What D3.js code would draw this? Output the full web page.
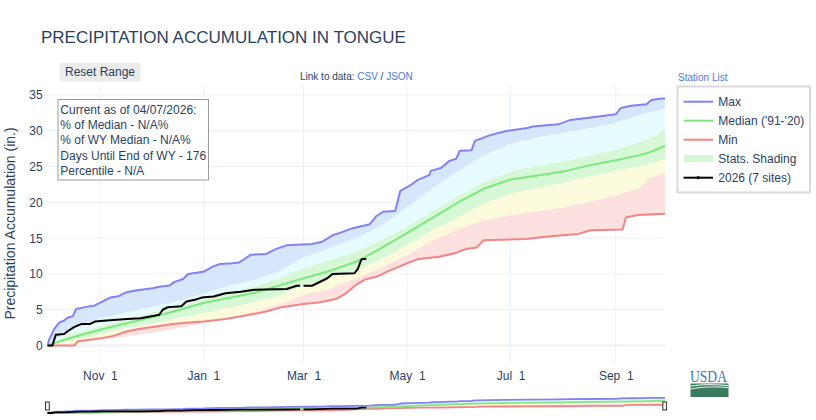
<!DOCTYPE html>
<html>
<head>
<meta charset="utf-8">
<script src="https://cdn.jsdelivr.net/npm/d3@7"></script>
<style>
  body { margin: 0; background: #fff; }
  svg text { font-family: "Liberation Sans", Arial, sans-serif; fill: #2a3f5f; }
</style>
</head>
<body>
<div class="chart"></div>
<script>
// ---- data: precipitation accumulation, inches ----

// common dates for the percentile bands and the median
var gridDates = ["2025-10-01","2025-10-15","2025-11-01","2025-11-15","2025-12-01","2025-12-15",
    "2026-01-01","2026-01-15","2026-02-01","2026-02-15","2026-03-01","2026-03-15","2026-04-01",
    "2026-04-15","2026-05-01","2026-05-15","2026-06-01","2026-06-15","2026-07-01","2026-07-15",
    "2026-08-01","2026-08-15","2026-09-01","2026-09-15","2026-09-21","2026-09-30"];
var p90Vals = [0, 2.4, 3.8, 4.5, 5.4, 6.1, 7.2, 8.3, 9.2, 10.4, 12.3, 13.5, 15.0, 16.6, 19.3, 21.8,
    24.5, 26.5, 28.2, 29.0, 29.7, 30.3, 31.1, 32.2, 32.6, 33.0];
var p70Vals = [0, 1.6, 2.7, 3.5, 4.5, 5.2, 6.5, 7.3, 8.3, 9.4, 10.8, 11.8, 13.1, 14.6, 16.6, 18.6,
    21.0, 22.8, 24.3, 25.0, 25.7, 26.4, 27.4, 28.4, 28.9, 30.1];
var medianVals = [0, 1.1, 2.2, 3.0, 3.9, 4.8, 5.95, 6.6, 7.4, 8.4, 9.4, 10.3, 11.7, 13.5, 15.7, 17.7,
    20.1, 21.9, 23.2, 23.7, 24.3, 25.1, 25.9, 26.6, 27.0, 27.9];
var p30Vals = [0, 0.7, 1.5, 2.3, 3.0, 3.7, 4.5, 5.2, 6.1, 7.0, 8.4, 9.3, 10.6, 12.0, 14.0, 16.0,
    18.0, 19.8, 21.2, 21.9, 22.7, 23.5, 24.4, 25.0, 25.4, 26.0];
var p10Vals = [0, 0.2, 0.8, 1.2, 1.8, 2.3, 3.1, 3.8, 4.8, 5.7, 7.1, 7.8, 9.4, 10.8, 12.6, 14.6,
    16.3, 17.5, 18.2, 18.7, 19.3, 20.0, 21.0, 22.0, 23.4, 24.1];

var maxDates = ["2025-10-01","2025-10-02","2025-10-05","2025-10-08","2025-10-11","2025-10-13",
    "2025-10-16","2025-10-18","2025-10-24","2025-10-29","2025-11-03","2025-11-07","2025-11-12",
    "2025-11-16","2025-11-22","2025-12-02","2025-12-06","2025-12-12","2025-12-15","2025-12-20",
    "2025-12-23","2026-01-01","2026-01-07","2026-01-11","2026-01-18","2026-01-22","2026-01-29",
    "2026-02-07","2026-02-13","2026-02-19","2026-03-06","2026-03-12","2026-03-18","2026-03-22",
    "2026-03-30","2026-04-09","2026-04-13","2026-04-17","2026-04-24","2026-04-27","2026-05-03",
    "2026-05-07","2026-05-14","2026-05-15","2026-05-21","2026-05-26","2026-05-30","2026-06-01",
    "2026-06-08","2026-06-10","2026-06-19","2026-06-29","2026-07-11","2026-07-14","2026-07-29",
    "2026-08-05","2026-08-15","2026-09-01","2026-09-04","2026-09-10","2026-09-19","2026-09-22",
    "2026-09-28","2026-09-30"];
var maxVals = [0, 0.8, 2.3, 3.2, 3.5, 3.9, 4.1, 5.1, 5.4, 5.6, 6.2, 6.7, 6.9, 7.4, 7.7, 8.0, 8.2,
    8.4, 8.9, 9.3, 10.0, 10.3, 11.1, 11.4, 11.5, 11.6, 12.7, 12.8, 13.5, 14.0, 14.2, 14.5, 15.4,
    15.7, 16.4, 16.95, 18.1, 18.7, 18.8, 21.6, 22.4, 23.1, 23.8, 24.4, 24.8, 25.8, 26.1, 27.2,
    27.3, 28.6, 29.4, 30.0, 30.4, 30.6, 30.9, 31.5, 31.8, 32.3, 33.2, 33.5, 33.7, 34.3, 34.5, 34.5];

var minDates = ["2025-10-01","2025-10-17","2025-10-19","2025-11-01","2025-11-09","2025-11-17",
    "2025-11-24","2025-12-04","2025-12-14","2025-12-22","2026-01-01","2026-01-14","2026-01-26",
    "2026-02-07","2026-02-15","2026-03-01","2026-03-10","2026-03-20","2026-03-26","2026-04-01",
    "2026-04-07","2026-04-13","2026-04-19","2026-04-26","2026-05-02","2026-05-08","2026-05-20",
    "2026-05-29","2026-06-05","2026-06-11","2026-06-15","2026-07-10","2026-07-26","2026-08-10",
    "2026-08-17","2026-09-05","2026-09-07","2026-09-14","2026-09-30"];
var minVals = [0, 0, 0.6, 1.0, 1.35, 2.0, 2.3, 2.65, 3.0, 3.2, 3.35, 3.7, 4.2, 4.75, 5.3, 5.8, 6.0,
    6.5, 7.3, 8.5, 9.3, 9.6, 10.3, 11.0, 11.6, 12.1, 12.4, 12.9, 13.5, 13.7, 14.7, 14.9, 15.3,
    15.6, 16.1, 16.2, 17.9, 18.25, 18.4];

// water year 2026, 7 sites (null = missing day)
var curDates = ["2025-10-01","2025-10-04","2025-10-06","2025-10-11","2025-10-13","2025-10-17",
    "2025-10-21","2025-10-26","2025-10-29","2025-11-05","2025-11-17","2025-11-25","2025-12-03",
    "2025-12-06","2025-12-08","2025-12-11","2025-12-19","2025-12-22","2025-12-27","2025-12-31",
    "2026-01-07","2026-01-14","2026-01-23","2026-01-31","2026-02-19","2026-02-25","2026-02-27",
    "2026-02-28","2026-03-01","2026-03-06","2026-03-09","2026-03-15","2026-03-18","2026-03-31",
    "2026-04-02","2026-04-04","2026-04-05","2026-04-07"];
var curVals = [0, 0, 1.5, 1.6, 2.0, 2.6, 3.0, 3.0, 3.35, 3.5, 3.7, 3.8, 4.15, 4.3, 5.0, 5.35, 5.5,
    6.15, 6.4, 6.7, 6.85, 7.3, 7.5, 7.8, 7.9, 8.35, 8.35, null, 8.35, 8.35, 8.7, 9.4, 10.0, 10.1,
    10.7, 12.0, 12.1, 12.1];

var xTickDates = ["2025-11-01","2026-01-01","2026-03-01","2026-05-01","2026-07-01","2026-09-01"];
var yTicks = [0, 5, 10, 15, 20, 25, 30, 35];
var legendLabels = ["Max", "Median ('91-'20)", "Min", "Stats. Shading", "2026 (7 sites)"];
var noteLines = ["Current as of 04/07/2026:", "% of Median - N/A%", "% of WY Median - N/A%",
    "Days Until End of WY - 176", "Percentile - N/A"];

// ---- setup ----
var parse = d3.timeParse("%Y-%m-%d");
function series(dates, vals){
    return dates.map(function(d, i){ return {date: parse(d), value: vals[i]}; });
}
var maxS = series(maxDates, maxVals),
    p90S = series(gridDates, p90Vals),
    p70S = series(gridDates, p70Vals),
    medS = series(gridDates, medianVals),
    p30S = series(gridDates, p30Vals),
    p10S = series(gridDates, p10Vals),
    minS = series(minDates, minVals),
    curS = series(curDates, curVals);

var plot = {left: 47.3, right: 665, top: 85, bottom: 362};

var svg = d3.select(".chart").append("svg")
    .attr("width", 816)
    .attr("height", 420);

var x = d3.scaleTime()
    .domain([parse("2025-10-01"), parse("2026-09-30")])
    .range([plot.left, plot.right]);
var y = d3.scaleLinear().domain([-2.3, 36.4]).range([plot.bottom, plot.top]);
var ySlider = d3.scaleLinear().domain([-2.3, 36.4]).range([414, 397]);

var colors = {
    max: "#8282f4", median: "#7de77d", min: "#f48484", cur: "#000",
    bands: ["#d6e6fb", "#e5fbfd", "#d7f8d7", "#fbfbdb", "#fde0e0"]
};

// title
svg.append("text")
    .attr("x", 41).attr("y", 43.3)
    .style("font-size", "17px")
    .text("PRECIPITATION ACCUMULATION IN TONGUE");

// gridlines
svg.append("g").selectAll("line.vgrid")
    .data(xTickDates.map(parse))
    .enter().append("line")
    .attr("class", "vgrid")
    .attr("x1", function(d){ return x(d); }).attr("x2", function(d){ return x(d); })
    .attr("y1", plot.top).attr("y2", plot.bottom)
    .attr("stroke", "#ebf0f8").attr("stroke-width", 1);

svg.append("g").selectAll("line.hgrid")
    .data(yTicks)
    .enter().append("line")
    .attr("class", "hgrid")
    .attr("x1", plot.left).attr("x2", plot.right)
    .attr("y1", function(d){ return y(d); }).attr("y2", function(d){ return y(d); })
    .attr("stroke", "#ebf0f8")
    .attr("stroke-width", function(d){ return d === 0 ? 2 : 1; });

// clip paths
var defs = svg.append("defs");
defs.append("clipPath").attr("id", "clip-main").append("rect")
    .attr("x", plot.left).attr("y", plot.top)
    .attr("width", plot.right - plot.left).attr("height", plot.bottom - plot.top);
defs.append("clipPath").attr("id", "clip-slider").append("rect")
    .attr("x", plot.left).attr("y", 396)
    .attr("width", plot.right - plot.left).attr("height", 19);

function bandPath(upper, lower, ys){
    var pts = upper.map(function(d){ return [x(d.date), ys(d.value)]; })
        .concat(lower.slice().reverse().map(function(d){ return [x(d.date), ys(d.value)]; }));
    return d3.line()(pts) + "Z";
}

function drawTraces(g, ys, widthScale){
    var bands = [[maxS, p90S], [p90S, p70S], [p70S, p30S], [p30S, p10S], [p10S, minS]];
    bands.forEach(function(b, i){
        g.append("path")
            .attr("d", bandPath(b[0], b[1], ys))
            .attr("fill", colors.bands[i])
            .attr("stroke", "none");
    });

    var line = d3.line()
        .defined(function(d){ return d.value !== null; })
        .x(function(d){ return x(d.date); })
        .y(function(d){ return ys(d.value); });

    [[minS, colors.min], [medS, colors.median], [maxS, colors.max], [curS, colors.cur]]
        .forEach(function(s){
            g.append("path")
                .datum(s[0])
                .attr("d", line)
                .attr("fill", "none")
                .attr("stroke", s[1])
                .attr("stroke-width", 2 * widthScale)
                .attr("stroke-linejoin", "round");
        });
}

drawTraces(svg.append("g").attr("clip-path", "url(#clip-main)"), y, 1);

// axes
var yAxis = svg.append("g")
    .attr("transform", "translate(" + plot.left + ",0)")
    .call(d3.axisLeft(y).tickValues(yTicks).tickSize(0).tickPadding(4.6));
yAxis.select(".domain").remove();
yAxis.selectAll("text").style("font-size", "12px").attr("fill", null);

var xAxis = svg.append("g")
    .attr("transform", "translate(0," + plot.bottom + ")")
    .call(d3.axisBottom(x).tickValues(xTickDates.map(parse))
        .tickFormat(d3.timeFormat("%b %e")).tickSize(0).tickPadding(9.5));
xAxis.select(".domain").remove();
xAxis.selectAll("text").style("font-size", "12px").style("white-space", "pre").attr("fill", null);

svg.append("text")
    .attr("transform", "translate(15," + ((plot.top + plot.bottom) / 2) + ") rotate(-90)")
    .attr("text-anchor", "middle")
    .style("font-size", "14px")
    .text("Precipitation Accumulation (in.)");

// range slider
drawTraces(svg.append("g").attr("clip-path", "url(#clip-slider)"), ySlider, 0.9);
[plot.left - 1.8, plot.right - 2.2].forEach(function(hx){
    svg.append("rect")
        .attr("x", hx).attr("y", 402)
        .attr("width", 3.8).attr("height", 8)
        .attr("fill", "#f2f2f2").attr("stroke", "#333").attr("stroke-width", 1);
});

// reset button
svg.append("rect")
    .attr("x", 59.5).attr("y", 62.7).attr("width", 81).attr("height", 19)
    .attr("rx", 2).attr("fill", "#ececec");
svg.append("text")
    .attr("x", 100).attr("y", 76.3).attr("text-anchor", "middle")
    .style("font-size", "12px")
    .text("Reset Range");

// data links
var link = svg.append("text").attr("x", 300).attr("y", 80.3).style("font-size", "10px");
link.append("tspan").text("Link to data: ");
link.append("tspan").style("fill", "#4a7bd6").text("CSV");
link.append("tspan").text(" / ");
link.append("tspan").style("fill", "#4a7bd6").text("JSON");

svg.append("text")
    .attr("x", 678).attr("y", 80.5)
    .style("font-size", "10px").style("fill", "#4a7bd6")
    .text("Station List");

// info box
svg.append("rect")
    .attr("x", 58).attr("y", 99.5).attr("width", 150.5).attr("height", 80.5)
    .attr("fill", "#fff").attr("stroke", "#999").attr("stroke-width", 1);
svg.append("g").selectAll("text")
    .data(noteLines)
    .enter().append("text")
    .attr("x", 60.3)
    .attr("y", function(d, i){ return 113.6 + i * 15.4; })
    .style("font-size", "12px")
    .text(function(d){ return d; });

// legend
var lg = svg.append("g");
lg.append("rect")
    .attr("x", 677.5).attr("y", 86.5).attr("width", 132.5).attr("height", 106)
    .attr("fill", "#fff").attr("stroke", "#dadada").attr("stroke-width", 2);
var legendStyles = [colors.max, colors.median, colors.min, null, colors.cur];
legendLabels.forEach(function(label, i){
    var cy = 101.7 + i * 19;
    if (legendStyles[i] === null){
        lg.append("rect")
            .attr("x", 683.5).attr("y", cy - 3.5).attr("width", 29.5).attr("height", 7)
            .attr("fill", "#d4f7d4");
    } else {
        lg.append("line")
            .attr("x1", 683.5).attr("x2", 713).attr("y1", cy).attr("y2", cy)
            .attr("stroke", legendStyles[i]).attr("stroke-width", 2);
    }
    if (i === 4){
        lg.append("circle").attr("cx", 698.2).attr("cy", cy).attr("r", 1.6).attr("fill", "#000");
    }
    lg.append("text")
        .attr("x", 718.3).attr("y", cy + 4.2)
        .style("font-size", "12px")
        .text(label);
});

// USDA mark
var logo = svg.append("g");
logo.append("text")
    .attr("x", 690).attr("y", 382)
    .attr("textLength", 37).attr("lengthAdjust", "spacingAndGlyphs")
    .style("font-family", "'Liberation Serif', 'DejaVu Serif', serif")
    .style("font-size", "17.5px")
    .style("fill", "#4d72b8")
    .text("USDA");
logo.append("rect")
    .attr("x", 690.5).attr("y", 383.5).attr("width", 38).attr("height", 13.5)
    .attr("fill", "#3a7a5e");
logo.append("path")
    .attr("d", "M690.5,386.2 C701,384.3 714,384.3 728.5,385.6")
    .attr("fill", "none").attr("stroke", "#fff").attr("stroke-width", 1);
logo.append("path")
    .attr("d", "M690.5,389.2 C703,386.4 716,386.6 728.5,387.6")
    .attr("fill", "none").attr("stroke", "#fff").attr("stroke-width", 0.9);
</script>
</body>
</html>
